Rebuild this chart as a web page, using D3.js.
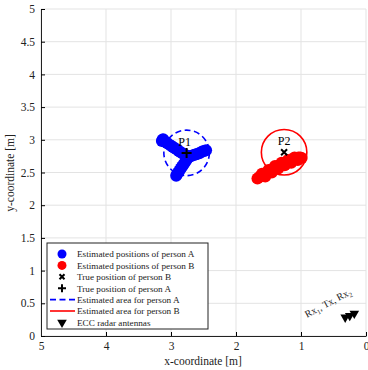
<!DOCTYPE html>
<html>
<head>
<meta charset="utf-8">
<script src="https://cdn.jsdelivr.net/npm/d3@7"></script>
<style>
body{margin:0;background:#fff;}
svg text{font-family:"Liberation Serif","Tinos","Times New Roman","DejaVu Serif",serif !important;}
</style>
</head>
<body>
<script>
// estimated positions, person A (x, y) in metres
const estA = [
  [3.13,3.00],[3.11,2.98],[3.12,3.01],[3.14,2.98],[3.09,2.97],[3.06,2.95],[3.03,2.93],
  [3.00,2.91],[2.97,2.89],[2.94,2.87],[2.91,2.85],[2.88,2.83],[2.85,2.81],[2.82,2.79],
  [2.79,2.77],[2.76,2.76],[2.73,2.74],
  [2.75,2.71],[2.77,2.68],[2.79,2.65],[2.81,2.62],[2.83,2.59],[2.85,2.56],[2.87,2.53],
  [2.89,2.50],[2.91,2.47],[2.92,2.45],
  [2.70,2.75],[2.67,2.76],[2.64,2.77],[2.61,2.78],[2.58,2.79],[2.55,2.80],[2.52,2.82],
  [2.49,2.83],[2.46,2.84]
];
// estimated positions, person B
const estB = [
  [1.67,2.41],[1.64,2.43],[1.61,2.45],[1.58,2.46],[1.55,2.48],[1.52,2.50],[1.49,2.52],
  [1.46,2.54],[1.43,2.55],[1.40,2.57],[1.37,2.59],[1.34,2.60],[1.31,2.62],[1.28,2.63],
  [1.25,2.64],[1.22,2.66],[1.19,2.67],[1.16,2.68],[1.13,2.70],[1.10,2.71],[1.07,2.72],
  [1.04,2.73],[1.01,2.73],[0.99,2.72],
  [1.60,2.48],[1.50,2.54],[1.40,2.60],[1.30,2.65],[1.20,2.69],[1.10,2.73],
  [1.55,2.44],[1.45,2.50],[1.35,2.56],[1.25,2.61],[1.15,2.65],[1.05,2.69]
];
const trueA = [2.76, 2.80];
const trueB = [1.26, 2.81];
const areaRadius = [0.35, 0.35]; // A, B
const antennas = [[0.32,0.285],[0.25,0.31],[0.18,0.345]];
const xTicks = [5,4,3,2,1,0];
const yTicks = [0,0.5,1,1.5,2,2.5,3,3.5,4,4.5,5];
const legendLabels = [
  "Estimated positions of person A",
  "Estimated positions of person B",
  "True position of person B",
  "True position of person A",
  "Estimated area for person A",
  "Estimated area for person B",
  "ECC radar antennas"
];

const w = 368, h = 370;
const x = d3.scaleLinear().domain([5,0]).range([41,366]);
const y = d3.scaleLinear().domain([0,5]).range([336,9]);

const svg = d3.select("body").append("svg")
  .attr("width", w).attr("height", h);

// grid
svg.append("g").selectAll("line").data(xTicks).enter().append("line")
  .attr("x1", d => x(d)).attr("x2", d => x(d))
  .attr("y1", y(0)).attr("y2", y(5))
  .attr("stroke", "#e3e3e3").attr("stroke-width", 1);
svg.append("g").selectAll("line").data(yTicks).enter().append("line")
  .attr("x1", x(5)).attr("x2", x(0))
  .attr("y1", d => y(d)).attr("y2", d => y(d))
  .attr("stroke", "#e3e3e3").attr("stroke-width", 1);

// axes
const xAxis = d3.axisBottom(x).tickValues(xTicks).tickSizeInner(-4).tickSizeOuter(0).tickPadding(6)
  .tickFormat(d3.format("d"));
const yAxis = d3.axisLeft(y).tickValues(yTicks).tickSizeInner(-4).tickSizeOuter(0).tickPadding(6)
  .tickFormat(d3.format("~g"));
svg.append("g").attr("transform", "translate(0," + y(0) + ")").call(xAxis)
  .call(g => g.selectAll("text").attr("font-size", 11.5).attr("fill", "#222"));
svg.append("g").attr("transform", "translate(" + x(5) + ",0)").call(yAxis)
  .call(g => g.selectAll("text").attr("font-size", 11.5).attr("fill", "#222"));
svg.selectAll(".domain").attr("stroke", "#222");

svg.append("text").attr("x", 203).attr("y", 365).attr("text-anchor", "middle")
  .attr("font-size", 11.5).attr("fill", "#222").text("x-coordinate [m]");
svg.append("text").attr("transform", "translate(14,173) rotate(-90)").attr("text-anchor", "middle")
  .attr("font-size", 11.5).attr("fill", "#222").text("y-coordinate [m]");

// estimated areas
svg.append("circle").attr("cx", x(trueA[0])).attr("cy", y(trueA[1]))
  .attr("r", x(0) - x(areaRadius[0]))
  .attr("fill", "none").attr("stroke", "#0000ff").attr("stroke-width", 1.6).attr("stroke-dasharray", "6,3.5");
svg.append("circle").attr("cx", x(trueB[0])).attr("cy", y(trueB[1]))
  .attr("r", x(0) - x(areaRadius[1]))
  .attr("fill", "none").attr("stroke", "#ff0000").attr("stroke-width", 1.6);

// estimated positions
svg.append("g").selectAll("circle").data(estA).enter().append("circle")
  .attr("cx", d => x(d[0])).attr("cy", d => y(d[1])).attr("r", 6).attr("fill", "#0000ff");
svg.append("g").selectAll("circle").data(estB).enter().append("circle")
  .attr("cx", d => x(d[0])).attr("cy", d => y(d[1])).attr("r", 6).attr("fill", "#ff0000");

// true positions
function plus(g, cx, cy, s) {
  g.append("path").attr("d", `M${cx-s},${cy}H${cx+s}M${cx},${cy-s}V${cy+s}`)
    .attr("stroke", "#000").attr("stroke-width", 2);
}
function cross(g, cx, cy, s) {
  g.append("path").attr("d", `M${cx-s},${cy-s}L${cx+s},${cy+s}M${cx-s},${cy+s}L${cx+s},${cy-s}`)
    .attr("stroke", "#000").attr("stroke-width", 2);
}
plus(svg, x(trueA[0]), y(trueA[1]), 5);
cross(svg, x(trueB[0]), y(trueB[1]), 3);
svg.append("text").attr("x", x(trueA[0]) - 2).attr("y", y(trueA[1]) - 7).attr("text-anchor", "middle")
  .attr("font-size", 12).text("P1");
svg.append("text").attr("x", x(trueB[0])).attr("y", y(trueB[1]) - 7).attr("text-anchor", "middle")
  .attr("font-size", 12).text("P2");

// antennas
const tri = d3.symbol().type(d3.symbolTriangle).size(40);
svg.append("g").selectAll("path").data(antennas).enter().append("path")
  .attr("d", tri)
  .attr("transform", d => "translate(" + x(d[0]) + "," + y(d[1]) + ") rotate(180)")
  .attr("fill", "#000");
const lab = svg.append("text").attr("transform", "translate(307,318) rotate(-28)")
  .attr("font-size", 10).attr("fill", "#222");
lab.append("tspan").text("Rx");
lab.append("tspan").attr("font-size", 7).attr("dy", 2.5).text("1");
lab.append("tspan").attr("dy", -2.5).text(", Tx, Rx");
lab.append("tspan").attr("font-size", 7).attr("dy", 2.5).text("2");

// legend
const lg = svg.append("g");
lg.append("rect").attr("x", 47).attr("y", 243).attr("width", 161).attr("height", 86)
  .attr("fill", "#fff").attr("stroke", "#222").attr("stroke-width", 1);
const rowY = i => 254 + i * 11.4;
lg.selectAll("text").data(legendLabels).enter().append("text")
  .attr("x", 77).attr("y", (d, i) => rowY(i) + 3.3)
  .attr("font-size", 9.2).attr("fill", "#222").text(d => d);
lg.append("circle").attr("cx", 62).attr("cy", rowY(0)).attr("r", 4.5).attr("fill", "#0000ff");
lg.append("circle").attr("cx", 62).attr("cy", rowY(1)).attr("r", 4.5).attr("fill", "#ff0000");
cross(lg, 62, rowY(2), 2.5);
plus(lg, 62, rowY(3), 4);
lg.append("line").attr("x1", 50).attr("x2", 75).attr("y1", rowY(4)).attr("y2", rowY(4))
  .attr("stroke", "#0000ff").attr("stroke-width", 1.6).attr("stroke-dasharray", "6,3.5");
lg.append("line").attr("x1", 50).attr("x2", 75).attr("y1", rowY(5)).attr("y2", rowY(5))
  .attr("stroke", "#ff0000").attr("stroke-width", 1.6);
lg.append("path").attr("d", tri).attr("transform", "translate(62," + rowY(6) + ") rotate(180)").attr("fill", "#000");
</script>
</body>
</html>
